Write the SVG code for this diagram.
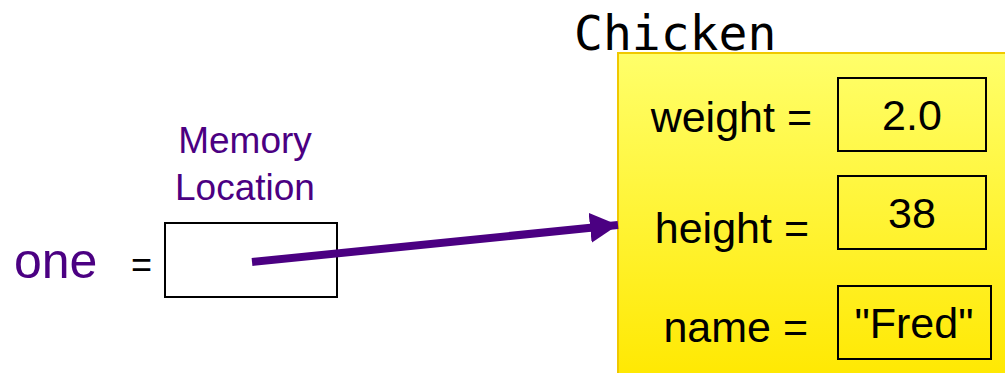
<svg xmlns="http://www.w3.org/2000/svg" width="1005" height="373" viewBox="0 0 1005 373">
<style>
.purple{fill:#4B0082;font-family:"Liberation Sans",Arial,sans-serif}
.lbl{font-family:"Liberation Sans",Arial,sans-serif;fill:#000;font-size:43px}
.val{fill:none;stroke:#000;stroke-width:2}
.mono{font-family:"DejaVu Sans Mono","Liberation Mono",monospace;font-size:48px;fill:#000}
</style>
<defs>
<linearGradient id="yg" x1="0" y1="0" x2="0" y2="1">
<stop offset="0" stop-color="#FFFF6A"/>
<stop offset="1" stop-color="#FFE800"/>
</linearGradient>
<marker id="ah" markerUnits="userSpaceOnUse" markerWidth="30" markerHeight="30" refX="28" refY="15" orient="auto">
<polygon points="0,0 28,15 0,30" fill="#4B0082"/>
</marker>
</defs>
<g id="one">
<text class="purple" x="14" y="278" font-size="50">one</text>
<text x="131" y="277" font-family="Liberation Sans,Arial,sans-serif" font-size="36" fill="#000">=</text>
</g>
<g id="memory">
<text class="purple" x="245" y="153" font-size="37" text-anchor="middle">Memory</text>
<text class="purple" x="245" y="200" font-size="37" text-anchor="middle">Location</text>
<rect x="165" y="223" width="172" height="74" fill="#fff" stroke="#000" stroke-width="2"/>
</g>
<g id="chicken">
<text class="mono" x="574" y="50">Chicken</text>
<rect x="618" y="53" width="400" height="330" fill="url(#yg)" stroke="#F0C800" stroke-width="2"/>
<text class="lbl" x="812" y="132" text-anchor="end">weight =</text>
<rect class="val" x="838" y="78" width="148" height="73"/>
<text class="lbl" x="912" y="130" text-anchor="middle">2.0</text>
<text class="lbl" x="809" y="243" text-anchor="end">height =</text>
<rect class="val" x="838" y="176" width="148" height="73"/>
<text class="lbl" x="912" y="228" text-anchor="middle">38</text>
<text class="lbl" x="808" y="342" text-anchor="end">name =</text>
<rect class="val" x="838" y="286" width="153" height="73"/>
<text class="lbl" x="914" y="338" text-anchor="middle">"Fred"</text>
</g>
<g id="connectors">
<line x1="252" y1="262" x2="618" y2="225" stroke="#4B0082" stroke-width="8" marker-end="url(#ah)"/>
</g>
</svg>
